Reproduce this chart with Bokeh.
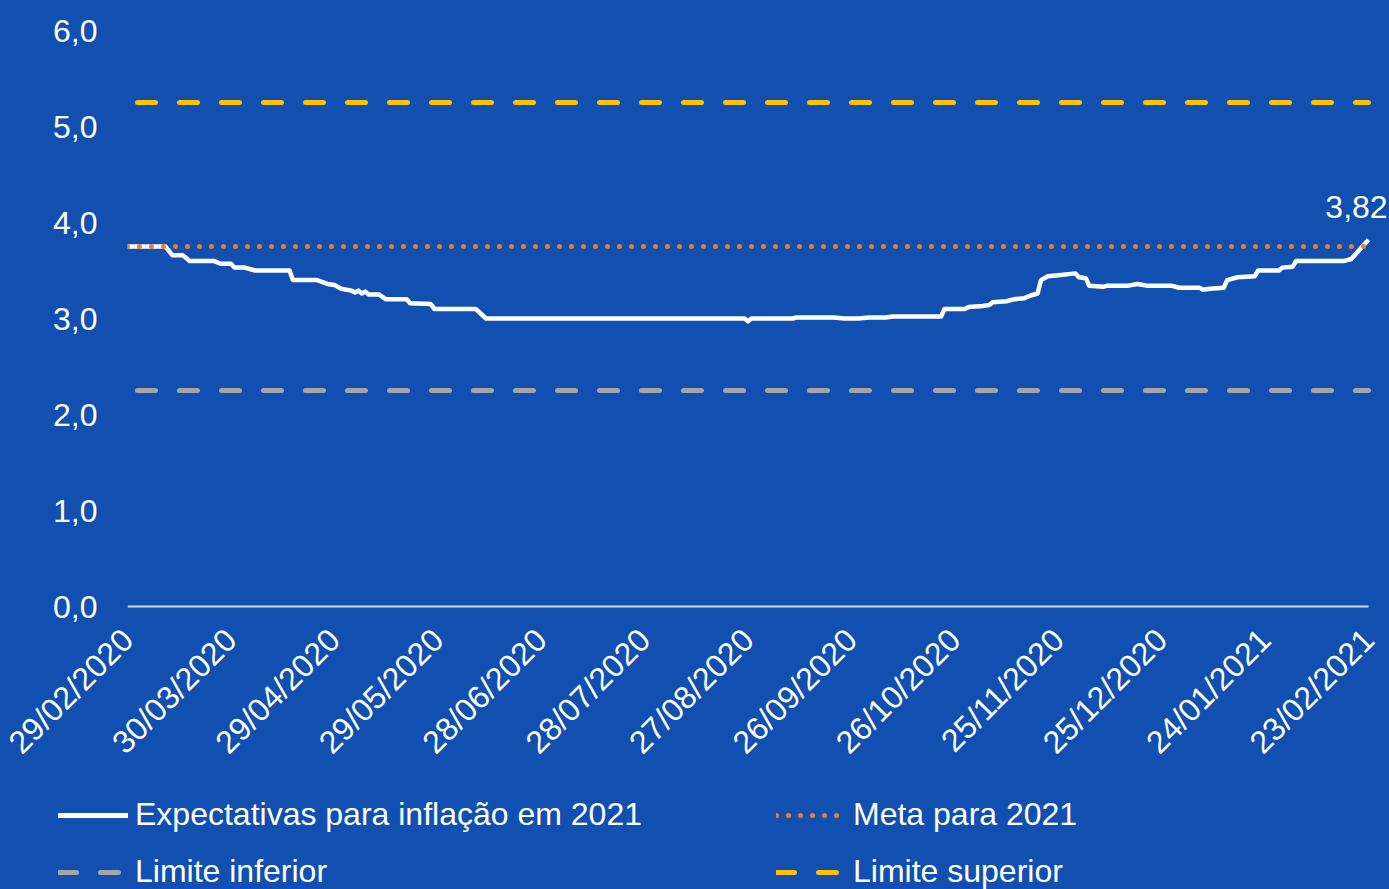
import re
from datetime import datetime
from bokeh.plotting import figure
from bokeh.layouts import column
from bokeh.models import (Range1d, FixedTicker, DatetimeTickFormatter, Legend,
                          LegendItem, Label)
from bokeh.embed import file_html
from bokeh.resources import INLINE
import math

# ---------------- data ----------------
dates = [
    "2020-02-29", "2020-03-11", "2020-03-13", "2020-03-16", "2020-03-18",
    "2020-03-25", "2020-03-27", "2020-03-30", "2020-03-31", "2020-04-03",
    "2020-04-06", "2020-04-16", "2020-04-17", "2020-04-24", "2020-04-27",
    "2020-04-29", "2020-05-01", "2020-05-04", "2020-05-05", "2020-05-06",
    "2020-05-07", "2020-05-08", "2020-05-09", "2020-05-12", "2020-05-14",
    "2020-05-20", "2020-05-21", "2020-05-27", "2020-05-28", "2020-06-09",
    "2020-06-12", "2020-08-26", "2020-08-27", "2020-08-28", "2020-09-09",
    "2020-09-10", "2020-09-21", "2020-09-24", "2020-09-28", "2020-10-01",
    "2020-10-06", "2020-10-08", "2020-10-22", "2020-10-23", "2020-10-29",
    "2020-10-30", "2020-11-03", "2020-11-05", "2020-11-06", "2020-11-10",
    "2020-11-12", "2020-11-15", "2020-11-17", "2020-11-19", "2020-11-20",
    "2020-11-22", "2020-11-25", "2020-11-30", "2020-12-01", "2020-12-03",
    "2020-12-04", "2020-12-08", "2020-12-09", "2020-12-15", "2020-12-18",
    "2020-12-21", "2020-12-28", "2020-12-30", "2021-01-05", "2021-01-06",
    "2021-01-08", "2021-01-12", "2021-01-13", "2021-01-16", "2021-01-21",
    "2021-01-22", "2021-01-28", "2021-01-29", "2021-02-01", "2021-02-02",
    "2021-02-16", "2021-02-18", "2021-02-23",
]
expectativas = [
    3.75, 3.75, 3.66, 3.66, 3.60,
    3.60, 3.57, 3.57, 3.53, 3.53,
    3.50, 3.50, 3.40, 3.40, 3.36,
    3.35, 3.31, 3.29, 3.27, 3.29,
    3.26, 3.28, 3.25, 3.25, 3.20,
    3.20, 3.16, 3.15, 3.10, 3.10,
    3.00, 3.00, 2.97, 3.00, 3.00,
    3.01, 3.01, 3.00, 3.00, 3.01,
    3.01, 3.02, 3.02, 3.10, 3.10,
    3.12, 3.13, 3.14, 3.17, 3.18,
    3.20, 3.21, 3.24, 3.26, 3.40,
    3.44, 3.45, 3.47, 3.43, 3.42,
    3.34, 3.33, 3.34, 3.34, 3.36,
    3.34, 3.34, 3.32, 3.32, 3.30,
    3.31, 3.32, 3.40, 3.43, 3.44,
    3.50, 3.50, 3.53, 3.54, 3.60,
    3.60, 3.62, 3.82,
]
meta = 3.75
limite_inferior = 2.25
limite_superior = 5.25
x_tick_dates = [
    "2020-02-29", "2020-03-30", "2020-04-29", "2020-05-29", "2020-06-28",
    "2020-07-28", "2020-08-27", "2020-09-26", "2020-10-26", "2020-11-25",
    "2020-12-25", "2021-01-24", "2021-02-23",
]
y_ticks = [0, 1, 2, 3, 4, 5, 6]
y_tick_labels = ["0,0", "1,0", "2,0", "3,0", "4,0", "5,0", "6,0"]
last_label = "3,82"

labels = ["Expectativas para inflação em 2021", "Meta para 2021",
          "Limite inferior", "Limite superior"]

# ---------------- styling ----------------
BG = "#1150B0"
FONT = "Liberation Sans"
FS = "32px"
C_EXP = "white"
C_META = "#ED7D31"
C_INF = "#A5A5A5"
C_SUP = "#FFC000"
C_ZERO = "#D9D9D9"

W = 1389
H_MAIN = 780
H_LEG = 109

x = [datetime.strptime(d, "%Y-%m-%d") for d in dates]
x_ends = [x[0], x[-1]]
# frame reaches the right edge; the series itself ends 21px before it
x_range_end = x[-1] + (x[-1] - x[0]) * (21 / 1241)


def ms(d):
    return (datetime.strptime(d, "%Y-%m-%d") - datetime(1970, 1, 1)).total_seconds() * 1000.0


p = figure(width=W, height=H_MAIN, x_axis_type="datetime",
           output_backend="svg", toolbar_location=None,
           x_range=Range1d(x[0], x_range_end), y_range=Range1d(-0.03125, 6),
           min_border_left=127, min_border_right=0,
           min_border_top=30, min_border_bottom=H_MAIN - 609)
p.frame_align = False
p.background_fill_color = BG
p.border_fill_color = BG
p.outline_line_color = None
p.xgrid.visible = False
p.ygrid.visible = False
p.styles = {"background-color": BG}

p.line(x_ends, [0, 0], line_color=C_ZERO, line_width=2)
p.line(x_ends, [limite_inferior] * 2, line_color=C_INF, line_width=5,
       line_dash="18 24", line_dash_offset=32, line_cap="round")
p.line(x_ends, [limite_superior] * 2, line_color=C_SUP, line_width=5,
       line_dash="18 24", line_dash_offset=32, line_cap="round")
p.line(x, expectativas, line_color=C_EXP, line_width=4.5, line_join="round")
p.line(x_ends, [meta] * 2, line_color=C_META, line_width=5,
       line_dash="0 12", line_cap="round")

# axes
xa = p.xaxis[0]
xa.ticker = FixedTicker(ticks=[ms(d) for d in x_tick_dates])
fmt = "%d/%m/%Y"
xa.formatter = DatetimeTickFormatter(microseconds=fmt, milliseconds=fmt, seconds=fmt,
                                     minsec=fmt, minutes=fmt, hourmin=fmt, hours=fmt,
                                     days=fmt, months=fmt, years=fmt)
xa.major_label_orientation = math.pi / 4
xa.axis_line_color = None
xa.major_tick_line_color = None
xa.minor_tick_line_color = None
xa.major_tick_out = 0
xa.major_tick_in = 0
xa.major_label_standoff = 25
xa.major_label_text_color = "white"
xa.major_label_text_font = FONT
xa.major_label_text_font_size = FS

ya = p.yaxis[0]
ya.ticker = FixedTicker(ticks=y_ticks)
ya.major_label_overrides = {t: l for t, l in zip(y_ticks, y_tick_labels)}
ya.axis_line_color = None
ya.major_tick_line_color = None
ya.minor_tick_line_color = None
ya.major_tick_out = 0
ya.major_tick_in = 0
ya.major_label_standoff = 30
ya.major_label_text_color = "white"
ya.major_label_text_font = FONT
ya.major_label_text_font_size = FS

# end label
p.add_layout(Label(x=x[-1], y=expectativas[-1], text=last_label,
                   text_color="white", text_font=FONT, text_font_size=FS,
                   text_align="center", text_baseline="middle",
                   x_offset=-12, y_offset=33))

# ---------------- legend strip ----------------
q = figure(width=W, height=H_LEG, x_axis_type="datetime",
           output_backend="svg", toolbar_location=None,
           x_range=Range1d(0, 1), y_range=Range1d(0, 1),
           x_axis_location=None, y_axis_location=None,
           min_border_left=0, min_border_right=0, min_border_top=0, min_border_bottom=0)
q.frame_align = False
q.background_fill_color = BG
q.border_fill_color = BG
q.outline_line_color = None
q.xgrid.visible = False
q.ygrid.visible = False
q.styles = {"background-color": BG}

# legend keys: same series, lying outside this strip's (empty) view
g_exp = q.line(x, expectativas, line_color=C_EXP, line_width=5, line_cap="round")
g_meta = q.line(x_ends, [meta] * 2, line_color=C_META, line_width=5,
                line_dash="0 12", line_cap="round")
g_inf = q.line(x_ends, [limite_inferior] * 2, line_color=C_INF, line_width=5,
               line_dash="18 24", line_cap="round")
g_sup = q.line(x_ends, [limite_superior] * 2, line_color=C_SUP, line_width=5,
               line_dash="18 24", line_cap="round")

legend = Legend(items=[
    LegendItem(label=labels[0], renderers=[g_exp]),
    LegendItem(label=labels[2], renderers=[g_inf]),
    LegendItem(label=labels[1], renderers=[g_meta]),
    LegendItem(label=labels[3], renderers=[g_sup]),
], ncols=2, location=(58, -1))
legend.background_fill_alpha = 0
legend.border_line_color = None
legend.padding = 0
legend.margin = 0
legend.glyph_width = 70
legend.glyph_height = 36
legend.label_height = 36
legend.label_width = 621
legend.spacing = 20
legend.label_standoff = 7
legend.label_text_color = "white"
legend.label_text_font = FONT
legend.label_text_font_size = FS
legend.label_text_baseline = "middle"
q.add_layout(legend, "center")

layout = column(p, q, spacing=0)
layout.styles = {"background-color": BG}

html = file_html(layout, INLINE)
html = html.replace("</head>",
                    "<style>html, body {margin:0; padding:0; overflow:hidden; "
                    "background-color:%s !important;}</style></head>" % BG, 1)
open("out.html", "w").write(html)
